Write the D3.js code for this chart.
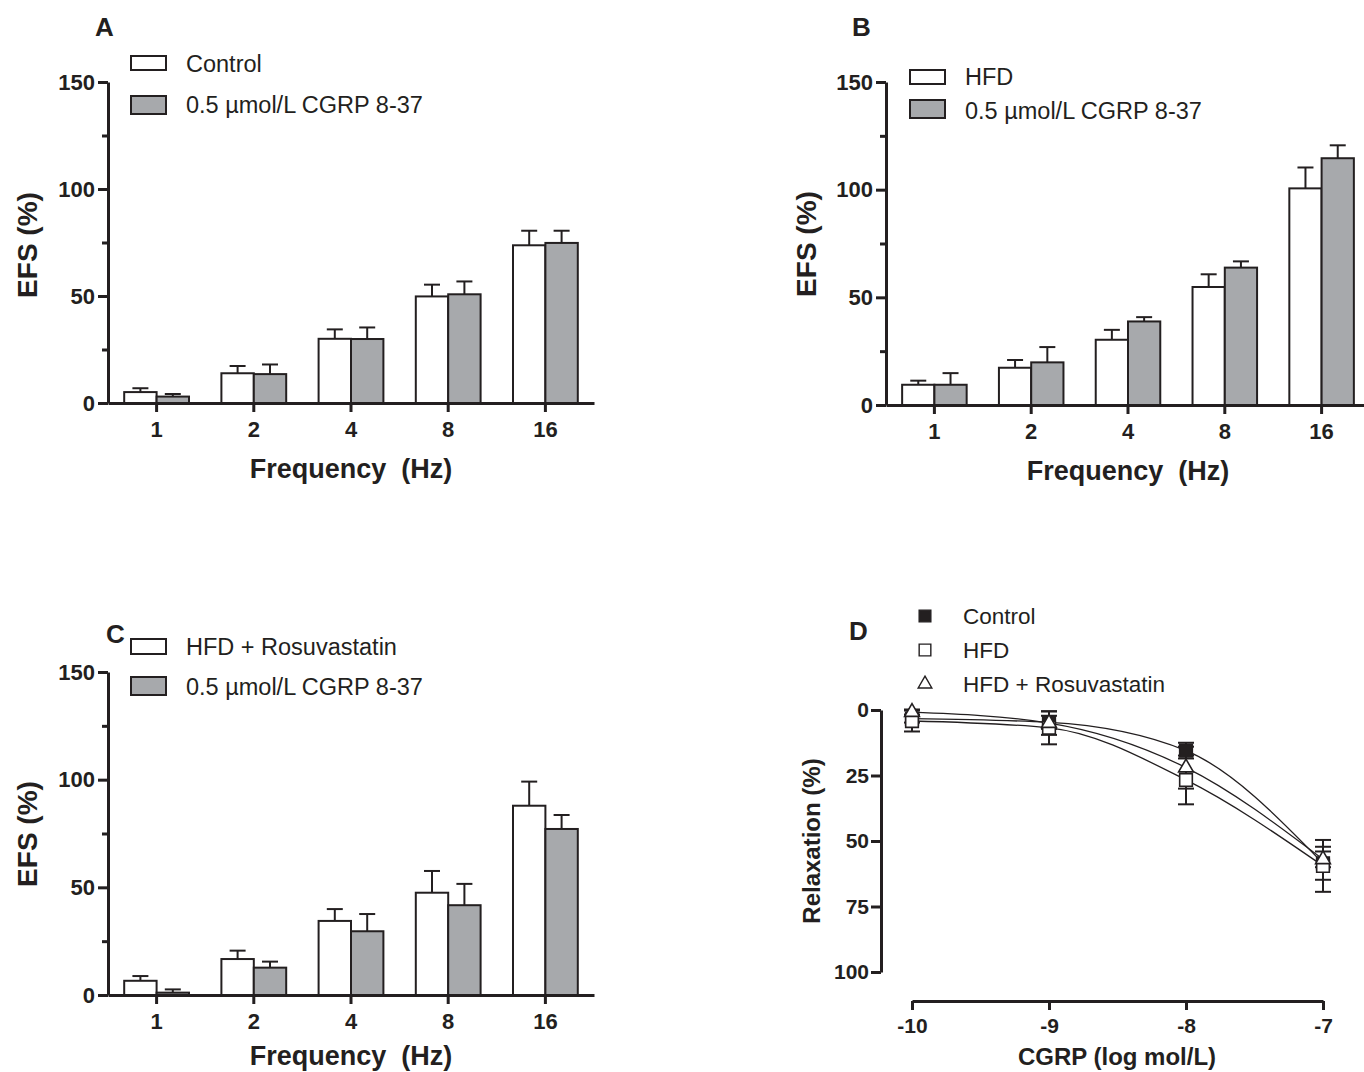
<!DOCTYPE html>
<html>
<head>
<meta charset="utf-8">
<script src="https://cdn.jsdelivr.net/npm/d3@7"></script>
<style>
  body { margin: 0; background: #fff; }
  svg { display: block; }
  text { font-family: "Liberation Sans", Arial, sans-serif; fill: #231f20; }
</style>
</head>
<body>
<svg id="fig"></svg>
<script>
// ---- data ----
const freqs = ['1', '2', '4', '8', '16'];

const aControl    = [5.1, 13.9, 30.0, 49.8, 73.7];
const aControlErr = [1.8, 3.4, 4.4, 5.5, 6.8];
const aCgrp       = [3.0, 13.5, 29.9, 50.8, 74.8];
const aCgrpErr    = [1.2, 4.5, 5.4, 6.0, 5.7];

const bHfd        = [9.4, 17.3, 30.3, 54.8, 100.6];
const bHfdErr     = [1.9, 3.6, 4.6, 5.9, 9.7];
const bCgrp       = [9.4, 19.8, 38.8, 63.8, 114.6];
const bCgrpErr    = [5.4, 7.1, 2.0, 2.9, 6.0];

const cRosu       = [6.6, 16.7, 34.4, 47.5, 87.9];
const cRosuErr    = [2.2, 3.9, 5.5, 10.1, 11.2];
const cCgrp       = [1.1, 12.7, 29.6, 41.7, 77.1];
const cCgrpErr    = [1.5, 2.8, 8.0, 9.9, 6.5];

const logDose     = [-10, -9, -8, -7];
const dControl    = [3.3, 4.7, 15.5, 58.5];
const dControlErr = [1.5, 2.5, 3.0, 6.3];
const dHfd        = [4.2, 6.8, 26.7, 59.5];
const dHfdErr     = [4.0, 6.3, 9.3, 9.9];
const dRosu       = [0.8, 5.0, 22.0, 57.0];
const dRosuErr    = [1.0, 4.5, 8.0, 3.0];

const efsTicks = [0, 50, 100, 150];
const efsMinor = [25, 75, 125];
const relaxTicks = [0, 25, 50, 75, 100];

const ink = '#231f20';
const grey = '#a7a9ac';

const svg = d3.select('#fig').attr('width', 1364).attr('height', 1072);

function styleAxis(sel, size) {
  sel.selectAll('path, line').attr('stroke', ink).attr('stroke-width', 3);
  sel.selectAll('text')
    .style('font-size', size + 'px').style('font-weight', 'bold')
    .attr('fill', ink);
}

function barPanel(cfg) {
  const g = svg.append('g');
  const y = d3.scaleLinear().domain([0, 150]).range([cfg.bottom, cfg.top]);
  const x0 = d3.scaleBand().domain(freqs).range([cfg.left, cfg.right]);
  const barW = x0.bandwidth() / 3;
  const x1 = d3.scaleBand().domain([0, 1])
    .range([x0.bandwidth() / 2 - barW, x0.bandwidth() / 2 + barW]);
  const fills = ['#ffffff', grey];

  cfg.series.forEach((s, i) => {
    const rows = freqs.map((f, k) => ({ f: f, v: s.values[k], e: s.errors[k] }));
    const cx = d => x0(d.f) + x1(i) + x1.bandwidth() / 2;
    const sg = g.append('g');
    sg.selectAll('line.stem').data(rows).join('line')
      .attr('class', 'stem')
      .attr('x1', cx).attr('x2', cx)
      .attr('y1', d => y(d.v)).attr('y2', d => y(d.v + d.e))
      .attr('stroke', ink).attr('stroke-width', 2);
    sg.selectAll('line.cap').data(rows).join('line')
      .attr('class', 'cap')
      .attr('x1', d => cx(d) - 8).attr('x2', d => cx(d) + 8)
      .attr('y1', d => y(d.v + d.e)).attr('y2', d => y(d.v + d.e))
      .attr('stroke', ink).attr('stroke-width', 2);
    sg.selectAll('rect').data(rows).join('rect')
      .attr('x', d => x0(d.f) + x1(i))
      .attr('y', d => y(d.v))
      .attr('width', x1.bandwidth())
      .attr('height', d => y(0) - y(d.v))
      .attr('fill', fills[i]).attr('stroke', ink).attr('stroke-width', 2);
  });

  // axes
  const ya = g.append('g').attr('transform', `translate(${cfg.left},0)`)
    .call(d3.axisLeft(y).tickValues(efsTicks).tickSize(10).tickSizeOuter(0).tickPadding(3));
  styleAxis(ya, 22);
  const ym = g.append('g').attr('transform', `translate(${cfg.left},0)`)
    .call(d3.axisLeft(y).tickValues(efsMinor).tickSize(6).tickFormat(''));
  ym.select('.domain').remove();
  styleAxis(ym, 22);

  const xa = g.append('g').attr('transform', `translate(0,${cfg.bottom})`)
    .call(d3.axisBottom(x0).tickSize(9).tickSizeOuter(0).tickPadding(9));
  styleAxis(xa, 22);

  // titles
  g.append('text')
    .attr('x', (cfg.left + cfg.right) / 2).attr('y', cfg.xTitleY)
    .attr('text-anchor', 'middle').style('white-space', 'pre')
    .style('font-size', '27px').style('font-weight', 'bold')
    .text('Frequency  (Hz)');
  g.append('text')
    .attr('transform', `translate(${cfg.yTitleX},${cfg.yTitleY}) rotate(-90)`)
    .attr('text-anchor', 'middle')
    .style('font-size', '28px').style('font-weight', 'bold')
    .text('EFS (%)');
  g.append('text')
    .attr('x', cfg.letter[1]).attr('y', cfg.letter[2])
    .style('font-size', '26px').style('font-weight', 'bold')
    .text(cfg.letter[0]);

  // legend
  cfg.legend.forEach((L, i) => {
    g.append('rect')
      .attr('x', L.x).attr('y', L.y).attr('width', 35).attr('height', L.h)
      .attr('fill', fills[i]).attr('stroke', ink).attr('stroke-width', 2);
    g.append('text')
      .attr('x', L.x + 55).attr('y', L.ty)
      .style('font-size', '23.5px')
      .text(L.label);
  });
}

barPanel({
  letter: ['A', 95, 36],
  left: 108, right: 594, top: 82, bottom: 403,
  xTitleY: 478, yTitleX: 37, yTitleY: 245,
  series: [{ values: aControl, errors: aControlErr }, { values: aCgrp, errors: aCgrpErr }],
  legend: [
    { x: 131, y: 56, h: 14, ty: 72, label: 'Control' },
    { x: 131, y: 96, h: 18, ty: 113, label: '0.5 \u00b5mol/L CGRP 8-37' }
  ]
});

barPanel({
  letter: ['B', 852, 36],
  left: 886, right: 1370, top: 82, bottom: 405,
  xTitleY: 480, yTitleX: 816, yTitleY: 244,
  series: [{ values: bHfd, errors: bHfdErr }, { values: bCgrp, errors: bCgrpErr }],
  legend: [
    { x: 910, y: 70, h: 14, ty: 85, label: 'HFD' },
    { x: 910, y: 100, h: 18, ty: 119, label: '0.5 \u00b5mol/L CGRP 8-37' }
  ]
});

barPanel({
  letter: ['C', 106, 643],
  left: 108, right: 594, top: 672, bottom: 995,
  xTitleY: 1065, yTitleX: 37, yTitleY: 834,
  series: [{ values: cRosu, errors: cRosuErr }, { values: cCgrp, errors: cCgrpErr }],
  legend: [
    { x: 131, y: 639, h: 15, ty: 655, label: 'HFD + Rosuvastatin' },
    { x: 131, y: 677, h: 18, ty: 695, label: '0.5 \u00b5mol/L CGRP 8-37' }
  ]
});

// ---- panel D ----
(function () {
  const g = svg.append('g');
  const x = d3.scaleLinear().domain([-10, -7]).range([912, 1323]);
  const y = d3.scaleLinear().domain([0, 100]).range([710, 972]);

  // drawn in this order: control underneath, triangles on top
  const groups = [
    { name: 'Control', values: dControl, errors: dControlErr, shape: d3.symbolSquare, size: 160, fill: ink },
    { name: 'HFD', values: dHfd, errors: dHfdErr, shape: d3.symbolSquare, size: 160, fill: '#fff' },
    { name: 'HFD + Rosuvastatin', values: dRosu, errors: dRosuErr, shape: d3.symbolTriangle, size: 95, fill: '#fff' }
  ];

  const line = d3.line().x(d => x(d.x)).y(d => y(d.v)).curve(d3.curveMonotoneX);
  groups.forEach(gr => {
    gr.rows = logDose.map((ld, k) => ({ x: ld, v: gr.values[k], e: gr.errors[k] }));
    g.append('path').datum(gr.rows).attr('d', line)
      .attr('fill', 'none').attr('stroke', ink).attr('stroke-width', 1.3);
  });
  groups.forEach(gr => {
    const eg = g.append('g').attr('stroke', ink).attr('stroke-width', 2);
    eg.selectAll('line.v').data(gr.rows).join('line').attr('class', 'v')
      .attr('x1', d => x(d.x)).attr('x2', d => x(d.x))
      .attr('y1', d => y(d.v - d.e)).attr('y2', d => y(d.v + d.e));
    eg.selectAll('line.t').data(gr.rows).join('line').attr('class', 't')
      .attr('x1', d => x(d.x) - 8).attr('x2', d => x(d.x) + 8)
      .attr('y1', d => y(d.v - d.e)).attr('y2', d => y(d.v - d.e));
    eg.selectAll('line.b').data(gr.rows).join('line').attr('class', 'b')
      .attr('x1', d => x(d.x) - 8).attr('x2', d => x(d.x) + 8)
      .attr('y1', d => y(d.v + d.e)).attr('y2', d => y(d.v + d.e));
  });
  groups.forEach(gr => {
    g.selectAll(null).data(gr.rows).join('path')
      .attr('transform', d => `translate(${x(d.x)},${y(d.v)})`)
      .attr('d', d3.symbol().type(gr.shape).size(gr.size))
      .attr('fill', gr.fill).attr('stroke', ink).attr('stroke-width', 1.6);
  });

  const ya = g.append('g').attr('transform', 'translate(881,0)')
    .call(d3.axisLeft(y).tickValues(relaxTicks).tickSize(10).tickSizeOuter(0).tickPadding(2));
  styleAxis(ya, 21);
  const xa = g.append('g').attr('transform', 'translate(0,1001)')
    .call(d3.axisBottom(x).tickValues(logDose).tickSize(9).tickSizeOuter(0).tickPadding(8)
      .tickFormat(d => String(d)));
  styleAxis(xa, 21);

  g.append('text')
    .attr('x', 1117).attr('y', 1065).attr('text-anchor', 'middle')
    .style('font-size', '24px').style('font-weight', 'bold')
    .text('CGRP (log mol/L)');
  g.append('text')
    .attr('transform', 'translate(820,841) rotate(-90)')
    .attr('text-anchor', 'middle')
    .style('font-size', '24px').style('font-weight', 'bold')
    .text('Relaxation (%)');
  g.append('text')
    .attr('x', 849).attr('y', 640)
    .style('font-size', '26px').style('font-weight', 'bold')
    .text('D');

  // legend
  const rowY = [616, 650, 684];
  groups.forEach((gr, i) => {
    g.append('path')
      .attr('transform', `translate(925,${rowY[i]})`)
      .attr('d', d3.symbol().type(gr.shape).size(gr.size * 0.85))
      .attr('fill', gr.fill).attr('stroke', ink).attr('stroke-width', 1.4);
    g.append('text')
      .attr('x', 963).attr('y', rowY[i] + 8)
      .style('font-size', '22.5px')
      .text(gr.name);
  });
})();
</script>
</body>
</html>
